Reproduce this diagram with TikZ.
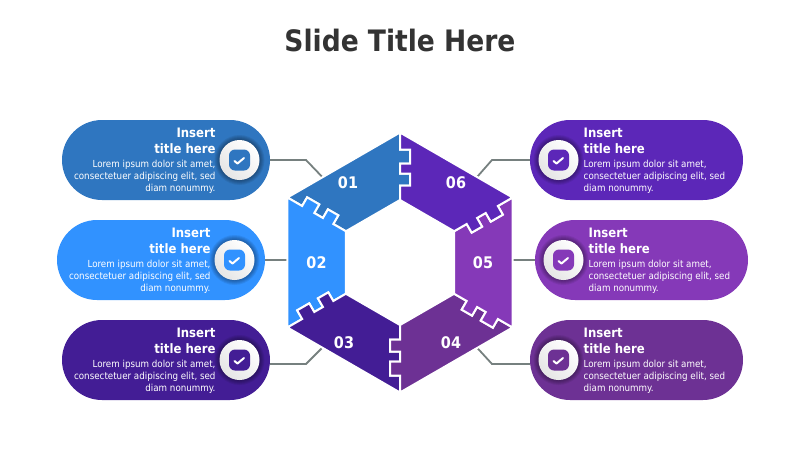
\documentclass[tikz,border=0pt]{standalone}
\usepackage{fontspec}
\setmainfont{DejaVu Sans Condensed}

\definecolor{c01}{HTML}{2F76C0}
\definecolor{c02}{HTML}{3192FF}
\definecolor{c03}{HTML}{431D95}
\definecolor{c04}{HTML}{6D3194}
\definecolor{c05}{HTML}{8539B8}
\definecolor{c06}{HTML}{5C27B8}
\definecolor{linkgray}{HTML}{76807F}

\tikzset{
	pill/.style={minimum height=80pt,rounded corners=40pt,inner sep=0pt},
	badge/.style={circle,minimum size=40pt,inner sep=0pt,left color=white,right color=black!10,shading angle=-45},
	iconbox/.style={minimum size=21pt,rounded corners=6pt,inner sep=0pt},
	tick/.style={white,line width=2pt,line cap=round,line join=round},
	link/.style={linkgray,line width=1.8pt},
	piece/.style={draw=white,line width=2pt,line join=miter},
	numtext/.style={white,font=\bfseries\fontsize{16}{20}\selectfont},
	headtext/.style={white,inner sep=0pt,font=\bfseries\fontsize{13}{16}\selectfont},
	bodytext/.style={white,inner sep=0pt,font=\fontsize{9.7}{12}\selectfont}
}

\newcommand{\seamin}{0/-113,10/-113,10/-99,0/-99,0/-89,10/-89,10/-77,0/-77}
\newcommand{\seamout}{0/-77,10/-77,10/-89,0/-89,0/-99,10/-99,10/-113,0/-113}

\begin{document}
\begin{tikzpicture}[x=1pt,y=-1pt]
	\useasboundingbox (0,0) rectangle (800,450);

	\node[font=\bfseries\fontsize{29.5}{34}\selectfont,text=black!80] (title) at (400,41) {Slide Title Here};

	% pills
	\foreach \n/\px/\py/\w/\c in {01/166/160/208/c01,02/161/260/208/c02,03/166/360/208/c03,04/636.5/360/213/c04,05/641.5/260/213/c05,06/636.5/160/213/c06}
		\node[pill,minimum width=\w pt,fill=\c] (pill\n) at (\px,\py) {};

	% connectors, the pieces cover their ends
	\coordinate (bend01) at (306,160);
	\coordinate (hub01) at (330,185);
	\coordinate (bend03) at (306,364);
	\coordinate (hub03) at (330,340);
	\coordinate (bend04) at (492,364);
	\coordinate (hub04) at (470,340);
	\coordinate (bend06) at (492,160);
	\coordinate (hub06) at (470,185);
	\coordinate (hub02) at (300,260);
	\coordinate (hub05) at (500,260);
	\draw[link] (pill01.east) -- (bend01) -- (hub01);
	\draw[link] (pill02.east) -- (hub02);
	\draw[link] (pill03.east |- bend03) -- (bend03) -- (hub03);
	\draw[link] (pill04.west |- bend04) -- (bend04) -- (hub04);
	\draw[link] (pill05.west) -- (hub05);
	\draw[link] (pill06.west) -- (bend06) -- (hub06);

	% hexagon
	\begin{scope}[shift={(400,262.5)}]
		\foreach \a/\c in {0/c01,60/c02,120/c03,180/c04,240/c05,300/c06}
			\draw[piece,fill=\c,rotate=\a] (0,-130)
				\foreach \qx/\qy in \seamin { -- (\qx,\qy) }
				-- (0,-62.5) -- ([rotate=60]0,-62.5)
				\foreach \qx/\qy in \seamout { -- ([rotate=60]\qx,\qy) }
				-- ([rotate=60]0,-130) -- cycle;
	\end{scope}

	\node[numtext] (num01) at (348,182.5) {01};
	\node[numtext] (num02) at (316.5,263) {02};
	\node[numtext] (num03) at (344,343) {03};
	\node[numtext] (num04) at (451,343) {04};
	\node[numtext] (num05) at (483,263) {05};
	\node[numtext] (num06) at (456,182.5) {06};

	% left side
	\foreach \n/\c in {01/c01,02/c02,03/c03}{
		\coordinate (spot\n) at ([xshift=73.5pt]pill\n.center);
		\foreach \r in {21,22,23,24,25}
			\fill[black,opacity=.07] (spot\n) circle (\r);
		\node[badge] (badge\n) at (spot\n) {};
		\node[iconbox,fill=\c] (icon\n) at (badge\n.center) {};
		\draw[tick] ([shift={(-5,1)}]icon\n.center) -- ([shift={(-2,3.5)}]icon\n.center) -- ([shift={(4.5,-2)}]icon\n.center);
		\node[headtext,align=right,anchor=north east] (head\n) at ([xshift=49.7pt,yshift=32.5pt]pill\n.center) {Insert\\title here};
		\node[bodytext,align=right,anchor=north east] (body\n) at ([xshift=49.7pt,yshift=.5pt]pill\n.center) {Lorem ipsum dolor sit amet,\\consectetuer adipiscing elit, sed\\diam nonummy.};
	}

	% right side
	\foreach \n/\c in {04/c04,05/c05,06/c06}{
		\coordinate (spot\n) at ([xshift=-78pt]pill\n.center);
		\foreach \r in {21,22,23,24,25}
			\fill[black,opacity=.07] (spot\n) circle (\r);
		\node[badge] (badge\n) at (spot\n) {};
		\node[iconbox,fill=\c] (icon\n) at (badge\n.center) {};
		\draw[tick] ([shift={(-5,1)}]icon\n.center) -- ([shift={(-2,3.5)}]icon\n.center) -- ([shift={(4.5,-2)}]icon\n.center);
		\node[headtext,align=left,anchor=north west] (head\n) at ([xshift=-53pt,yshift=32.5pt]pill\n.center) {Insert\\title here};
		\node[bodytext,align=left,anchor=north west] (body\n) at ([xshift=-53pt,yshift=.5pt]pill\n.center) {Lorem ipsum dolor sit amet,\\consectetuer adipiscing elit, sed\\diam nonummy.};
	}
\end{tikzpicture}
\end{document}
